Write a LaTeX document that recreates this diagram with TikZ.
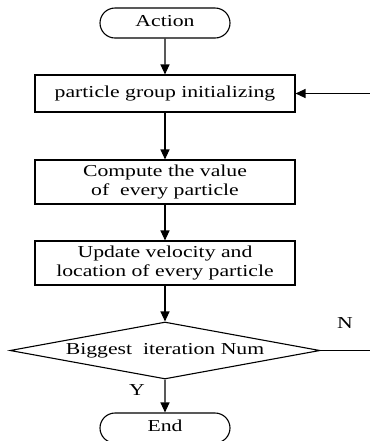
\documentclass[tikz,border=0pt]{standalone}
\usepackage{fontspec}
\setmainfont{Liberation Serif}
\usepackage{graphicx}
\usetikzlibrary{shapes.misc,shapes.geometric,arrows.meta}
\newcommand\sqtext[1]{\scalebox{1}[0.77]{\fontsize{10.85}{12.3}\selectfont\begin{tabular}{@{}c@{}}#1\end{tabular}}}
\begin{document}
\begin{tikzpicture}[x=0.5pt,y=-0.5pt,
  line width=0.55pt,
  term/.style={draw,rounded rectangle,minimum width=65pt,minimum height=15pt,inner sep=0pt},
  procbox/.style={draw,rectangle,minimum width=130pt,inner sep=0pt},
  arr/.style={-{Triangle[length=5pt,width=4.5pt]}},
  lbl/.style={inner sep=0pt}]
\useasboundingbox (0,0) rectangle (370,441);
\node[term] (act) at (165,23) {\sqtext{Action}};
\node[procbox,minimum height=18.5pt] (init) at (165,93.5) {\sqtext{particle group initializing}};
\node[procbox,minimum height=22pt] (comp) at (165,182) {\sqtext{Compute the value\\of\ \ every particle}};
\node[procbox,minimum height=22pt] (upd) at (165,263) {\sqtext{Update velocity and\\location of every particle}};
\node[draw,diamond,inner sep=0pt,minimum width=155pt,minimum height=28.5pt] (dia) at (165,350.5) {\makebox[0pt]{\sqtext{Biggest\ \ iteration Num}}};
\node[term] (end) at (165,428) {\sqtext{End}};
\coordinate (rin) at (370,93.5);
\coordinate (rout) at (370,350.5);
\node[lbl] (n) at (345,325) {\sqtext{N}};
\node[lbl] (y) at (137,392) {\sqtext{Y}};
\draw[arr] (act) -- (init);
\draw[arr] (init) -- (comp);
\draw[arr] (comp) -- (upd);
\draw[arr] (upd) -- (dia);
\draw[arr] (dia) -- (end);
\draw[arr] (rin) -- (init.east);
\draw (dia.east) -- (rout);
\end{tikzpicture}
\end{document}
